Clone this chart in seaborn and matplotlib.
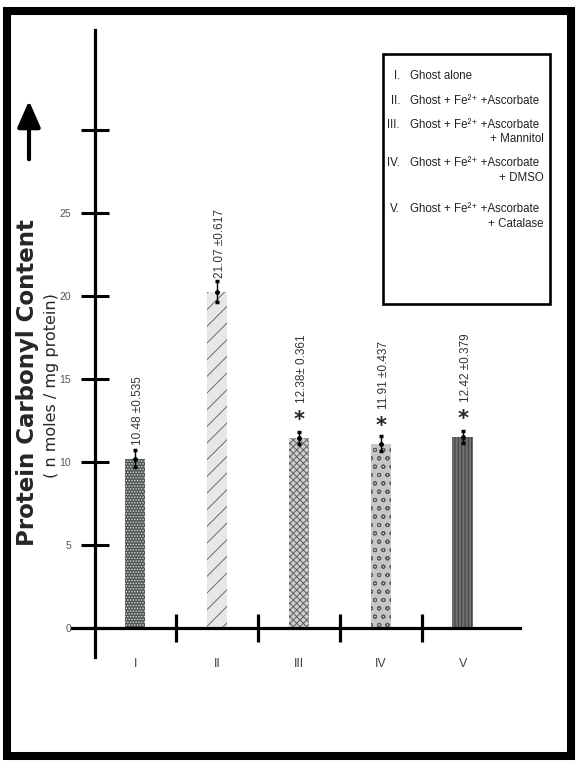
import matplotlib
matplotlib.use("Agg")
import matplotlib.pyplot as plt
import matplotlib.patches as mpatches
import seaborn as sns

# values
groups = ["I", "II", "III", "IV", "V"]
bar_heights = [10.2, 20.25, 11.45, 11.1, 11.5]
sem = [0.535, 0.617, 0.361, 0.437, 0.379]
value_labels = ["10.48 \u00b10.535", "21.07 \u00b10.617", "12.38\u00b1 0.361",
                "11.91 \u00b10.437", "12.42 \u00b10.379"]
significant = [False, False, True, True, True]
y_ticks = [0, 5, 10, 15, 20, 25, 30]
y_tick_labels = ["0", "5", "10", "15", "20", "25", ""]

legend_num = ["I.", "II.", "III.", "IV.", "V."]
legend_main = ["Ghost alone",
               "Ghost + Fe\u00b2\u207a +Ascorbate",
               "Ghost + Fe\u00b2\u207a +Ascorbate",
               "Ghost + Fe\u00b2\u207a +Ascorbate",
               "Ghost + Fe\u00b2\u207a +Ascorbate"]
legend_extra = ["", "", "+ Mannitol", "+ DMSO", "+ Catalase"]

# bar fill looks (patterned in the original)
faces = ["#4f5754", "#e6e8e8", "#cfcfcf", "#c4c7c5", "#707070"]
hatch_cols = ["#d8dcda", "#6a6a6a", "#5e5e5e", "#5a5a5a", "#3c3c3c"]
hatches = ["......", "//", "xxxxx", "oo", "|||||"]

sns.set_style("white")
plt.rcParams["font.family"] = ["Liberation Sans", "DejaVu Sans"]
plt.rcParams["hatch.linewidth"] = 0.7

W, H = 580, 764
fig = plt.figure(figsize=(W / 100, H / 100), dpi=100)
ax = fig.add_axes([72 / W, 107 / H, 448 / W, 627 / H])

sns.barplot(x=groups, y=bar_heights, hue=groups, palette=faces, width=0.25,
            legend=False, errorbar=None, ax=ax)
for p, fc, hc, ht in zip(ax.patches, faces, hatch_cols, hatches):
    p.set_facecolor(fc)
    p.set_edgecolor(hc)
    p.set_hatch(ht)
    p.set_linewidth(0)

ax.errorbar(range(len(groups)), bar_heights, yerr=sem, fmt="o", ms=2.5,
            color="black", elinewidth=1, capsize=1.5, capthick=2.5, zorder=5)

for i, (h, lab, sig) in enumerate(zip(bar_heights, value_labels, significant)):
    if sig:
        ax.text(i, h + 1.05, "*", ha="center", va="center", fontsize=15,
                fontweight="bold", family="DejaVu Sans")
        ax.text(i + 0.04, h + 2.1, lab, rotation=90, ha="center", va="bottom",
                fontsize=8.5, color="#333333")
    else:
        ax.text(i + 0.04, h + 0.8, lab, rotation=90, ha="center", va="bottom",
                fontsize=8.5, color="#333333")

ax.set_xlim(-0.77, 4.70)
ax.set_ylim(-1.75, 36.0)

for s in ["top", "right"]:
    ax.spines[s].set_visible(False)
ax.spines["left"].set_position(("data", -0.49))
ax.spines["bottom"].set_position(("data", 0))
for s in ["left", "bottom"]:
    ax.spines[s].set_linewidth(2.3)
    ax.spines[s].set_color("black")

ax.set_yticks(y_ticks)
ax.set_yticklabels(y_tick_labels)
ax.tick_params(axis="y", left=True, direction="inout", length=20, width=2.2,
               pad=7, labelsize=7.5, labelcolor="#555555", color="black")

ax.set_xticks(range(len(groups)))
ax.set_xticklabels(groups)
ax.set_xticks([i + 0.5 for i in range(len(groups) - 1)], minor=True)
ax.tick_params(axis="x", which="major", bottom=True, length=0, pad=22,
               labelsize=9, labelcolor="#444444")
ax.tick_params(axis="x", which="minor", bottom=True, direction="inout",
               length=20, width=2.3, color="black")
ax.set_xlabel("")
ax.set_ylabel("")

# y axis titles and arrow
fig.text(28 / W, 1 - 383 / H, "Protein Carbonyl Content", rotation=90,
         ha="center", va="center", fontsize=16.5, fontweight="bold",
         family="DejaVu Sans")
fig.text(51.5 / W, 1 - 386 / H, "( n moles / mg protein)", rotation=90,
         ha="center", va="center", fontsize=11.5, family="DejaVu Sans")
fig.add_artist(mpatches.FancyArrowPatch((29 / W, 1 - 162 / H), (29 / W, 1 - 98 / H),
                                        transform=fig.transFigure,
                                        arrowstyle="-|>,head_length=0.8,head_width=0.35",
                                        mutation_scale=20, lw=3, color="black"))

# key box
fig.add_artist(mpatches.Rectangle((383 / W, 1 - 304 / H), 167 / W, 250 / H,
                                  transform=fig.transFigure, fill=False,
                                  lw=1.9, edgecolor="black"))
rows_main = [76, 101, 125, 163, 209]
rows_extra = [None, None, 139, 178, 224]
for n, m, e, y1, y2 in zip(legend_num, legend_main, legend_extra, rows_main, rows_extra):
    fig.text(400 / W, 1 - y1 / H, n, ha="right", va="center", fontsize=8.3,
             color="#222222")
    fig.text(410 / W, 1 - y1 / H, m, ha="left", va="center", fontsize=8.3,
             color="#222222")
    if e:
        fig.text(544 / W, 1 - y2 / H, e, ha="right", va="center", fontsize=8.3,
                 color="#222222")

# outer frame
fig.add_artist(mpatches.Rectangle((7 / W, 8.5 / H), 564 / W, 745 / H,
                                  transform=fig.transFigure, fill=False,
                                  lw=5.8, edgecolor="black"))

fig.savefig("out.png", dpi=100)
